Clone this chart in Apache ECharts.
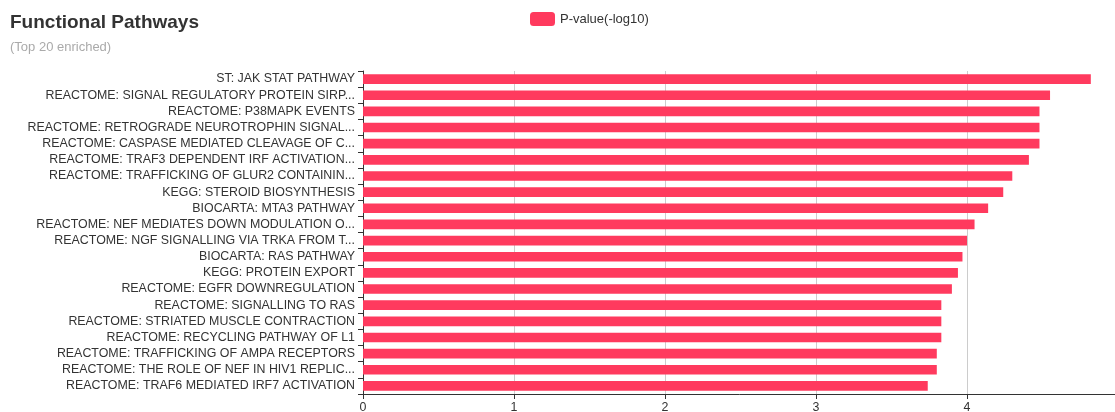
<!DOCTYPE html>
<html>
<head>
<meta charset="utf-8">
<script src="https://cdn.jsdelivr.net/npm/echarts@6/dist/echarts.min.js"></script>
<style>
html,body{margin:0;padding:0;background:#fff;}
#chart{width:1115px;height:412px;}
</style>
</head>
<body>
<div id="chart"></div>
<script>
const categories = [
  "ST: JAK STAT PATHWAY",
  "REACTOME: SIGNAL REGULATORY PROTEIN SIRP...",
  "REACTOME: P38MAPK EVENTS",
  "REACTOME: RETROGRADE NEUROTROPHIN SIGNAL...",
  "REACTOME: CASPASE MEDIATED CLEAVAGE OF C...",
  "REACTOME: TRAF3 DEPENDENT IRF ACTIVATION...",
  "REACTOME: TRAFFICKING OF GLUR2 CONTAININ...",
  "KEGG: STEROID BIOSYNTHESIS",
  "BIOCARTA: MTA3 PATHWAY",
  "REACTOME: NEF MEDIATES DOWN MODULATION O...",
  "REACTOME: NGF SIGNALLING VIA TRKA FROM T...",
  "BIOCARTA: RAS PATHWAY",
  "KEGG: PROTEIN EXPORT",
  "REACTOME: EGFR DOWNREGULATION",
  "REACTOME: SIGNALLING TO RAS",
  "REACTOME: STRIATED MUSCLE CONTRACTION",
  "REACTOME: RECYCLING PATHWAY OF L1",
  "REACTOME: TRAFFICKING OF AMPA RECEPTORS",
  "REACTOME: THE ROLE OF NEF IN HIV1 REPLIC...",
  "REACTOME: TRAF6 MEDIATED IRF7 ACTIVATION"
];
const pValues = [4.82, 4.55, 4.48, 4.48, 4.48, 4.41, 4.30, 4.24, 4.14, 4.05, 4.00, 3.97, 3.94, 3.90, 3.83, 3.83, 3.83, 3.80, 3.80, 3.74];
const seriesName = "P-value(-log10)";
const xTicks = [0, 1, 2, 3, 4, 5];

const FONT = 'Liberation Sans, Arial, sans-serif';
const chart = echarts.init(document.getElementById('chart'), null, {renderer: 'canvas'});
chart.setOption({
  animation: false,
  backgroundColor: '#fff',
  title: {
    text: 'Functional Pathways',
    subtext: '(Top 20 enriched)',
    left: 5,
    top: 8,
    itemGap: 9,
    textStyle: {fontSize: 19, fontWeight: 'bold', color: '#333', fontFamily: FONT},
    subtextStyle: {fontSize: 13, color: '#aaa', fontFamily: FONT}
  },
  legend: {
    data: [seriesName],
    top: 7,
    left: 525,
    itemWidth: 25,
    itemHeight: 14,
    textStyle: {fontSize: 13, color: '#333', fontFamily: FONT}
  },
  grid: {
    left: 363,
    right: -3,
    top: 71,
    bottom: 18,
    containLabel: false,
    outerBoundsMode: 'none'
  },
  xAxis: {
    type: 'value',
    min: xTicks[0],
    max: xTicks[xTicks.length - 1],
    interval: 1,
    axisLine: {show: true, lineStyle: {color: '#333'}},
    axisTick: {show: true, lineStyle: {color: '#333'}},
    axisLabel: {fontSize: 12.4, color: '#333', margin: 8, fontFamily: FONT},
    splitLine: {show: true, lineStyle: {color: '#ccc'}}
  },
  yAxis: {
    type: 'category',
    data: categories,
    inverse: true,
    axisLine: {show: true, lineStyle: {color: '#333'}},
    axisTick: {show: true, lineStyle: {color: '#333'}},
    axisLabel: {fontSize: 12.4, color: '#333', margin: 8, fontFamily: FONT},
    splitLine: {show: false}
  },
  series: [{
    name: seriesName,
    type: 'bar',
    data: pValues,
    barCategoryGap: '40%',
    itemStyle: {color: '#ff3a5e'}
  }]
});
</script>
</body>
</html>
